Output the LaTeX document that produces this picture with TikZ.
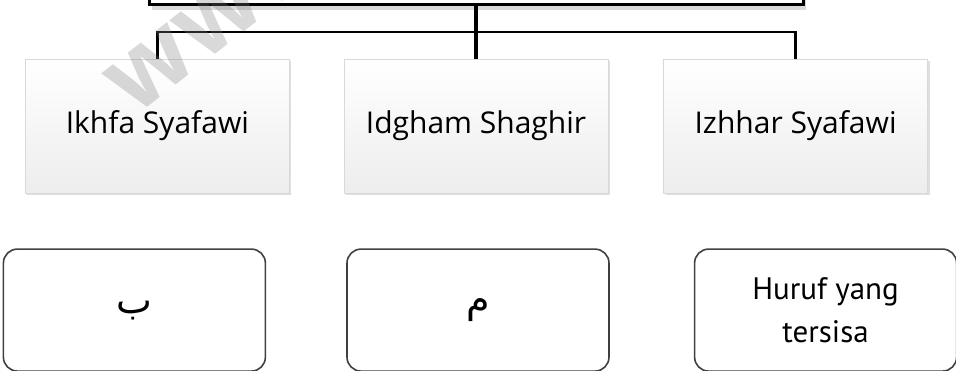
\documentclass[tikz,border=0pt]{standalone}
\usepackage{fontspec}
\setmainfont{Open Sans}
\newfontfamily\leaffont{PT Sans}
\newfontfamily\arabicfont[Script=Arabic]{DejaVu Sans}
\TeXXeTstate=1
\usetikzlibrary{positioning,calc,shadows}

\begin{document}
\begin{tikzpicture}[
  x=1pt, y=1pt,
  topbox/.style={
    draw=black,
    line width=3pt,
    fill=white,
    minimum width=654pt,
    minimum height=60pt,
    drop shadow={shadow xshift=3pt, shadow yshift=-6pt, opacity=0.3}
  },
  midbox/.style={
    draw=gray!30,
    line width=0.6pt,
    top color=white,
    bottom color=gray!14,
    minimum width=264pt,
    minimum height=134pt,
    font=\fontsize{30}{36}\selectfont,
    drop shadow={shadow xshift=2pt, shadow yshift=-2pt, opacity=0.25}
  },
  leafbox/.style={
    draw=black!75,
    line width=1.6pt,
    rounded corners=14pt,
    minimum width=262pt,
    minimum height=122pt,
    align=center
  },
  arabic/.style={font=\arabicfont\fontsize{38}{40}\selectfont},
  trunk/.style={line width=4pt},
  branch/.style={line width=2.5pt}
]
\useasboundingbox (0,0) rectangle (956,-370);

\node[topbox] (root) at (476,26) {};

\node[midbox] (box2) at (476,-126) {Idgham Shaghir};
\node[midbox, left=54pt of box2] (box1) {Ikhfa Syafawi};
\node[midbox, right=55pt of box2] (box3) {Izhhar Syafawi};

\node[leafbox, arabic, below=55pt of box2, xshift=2pt] (leaf2)
  {\beginR م\endR};
\node[leafbox, arabic, left=80pt of leaf2] (leaf1)
  {\beginR ب\endR};
\node[leafbox, right=84pt of leaf2,
  font=\leaffont\fontsize{31}{43}\selectfont] (leaf3)
  {Huruf yang\\tersisa};

% connectors
\coordinate (hub) at ($(root.south)!0.5!(box2.north)$);
\draw[trunk] (root.south) -- (box2.north);
\draw[branch] (box1.north) |- (hub) -| (box3.north);

% watermark
\node[text=gray, opacity=0.3, rotate=38, anchor=west, inner sep=0pt,
  font=\fontsize{100}{100}\selectfont\bfseries] (mark) at (118,-96) {www};

\end{tikzpicture}
\end{document}
